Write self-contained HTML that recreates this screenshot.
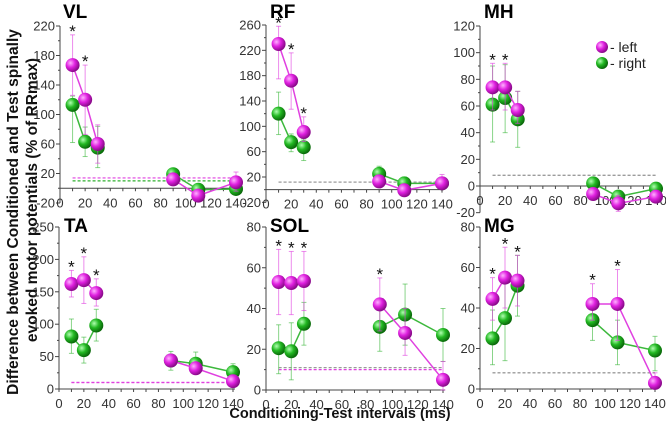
<!DOCTYPE html>
<html><head><meta charset="utf-8"><style>
html,body{margin:0;padding:0;background:#fff;}
svg{display:block;font-family:"Liberation Sans",Arial,sans-serif;}
</style></head><body>
<svg id="chart" width="666" height="428" viewBox="0 0 666 428" xmlns="http://www.w3.org/2000/svg">
<defs>
<radialGradient id="gl" cx="35%" cy="35%" r="65%"><stop offset="0" stop-color="#ffb0ff"/><stop offset="0.5" stop-color="#e020e0"/><stop offset="1" stop-color="#8a0a8a"/></radialGradient>
<radialGradient id="gr" cx="35%" cy="35%" r="65%"><stop offset="0" stop-color="#b0ffb0"/><stop offset="0.5" stop-color="#22b822"/><stop offset="1" stop-color="#0a6a0a"/></radialGradient>
</defs>
<text x="0" y="0" transform="translate(18,212) rotate(-90)" text-anchor="middle" font-size="15.5" font-weight="bold" fill="#111">Difference between Conditioned and Test spinally</text>
<text x="0" y="0" transform="translate(37,200) rotate(-90)" text-anchor="middle" font-size="15.5" font-weight="bold" fill="#111">evoked motor potentials (% of RRmax)</text>
<text x="340" y="418" text-anchor="middle" font-size="14.5" font-weight="bold" fill="#111">Conditioning-Test intervals (ms)</text>
<g>
<circle cx="602" cy="47" r="6" fill="url(#gl)"/>
<text x="610" y="52" font-size="14" fill="#222">- left</text>
<circle cx="602" cy="63" r="6" fill="url(#gr)"/>
<text x="610" y="68" font-size="14" fill="#222">- right</text>
</g>
</svg>
<script>
const intervals = [10, 20, 30, 90, 110, 140];
const vlLeft = [167, 120, 60, 12, -10, 8];
const vlLeftLo = [126, 73, 34, 5, -16, -4];
const vlLeftHi = [208, 167, 86, 20, -4, 22];
const vlRight = [113, 63, 55, 19, -2, -1];
const vlRightLo = [62, 43, 28, 12, -8, -6];
const vlRightHi = [125, 83, 84, 26, 4, 4];
const rfLeft = [230, 172, 91, 13, -1, 10];
const rfLeftLo = [175, 127, 76, 5, -6, 2];
const rfLeftHi = [258, 216, 115, 22, 5, 24];
const rfRight = [120, 75, 67, 25, 10, 10];
const rfRightLo = [87, 60, 46, 14, 4, 4];
const rfRightHi = [154, 88, 80, 37, 20, 18];
const mhLeft = [74, 74, 57, -6, -13, -8];
const mhLeftLo = [57, 57, 47, -10, -19, -12];
const mhLeftHi = [92, 92, 71, -2, -7, -4];
const mhRight = [61, 66, 50, 2, -8, -2];
const mhRightLo = [33, 40, 29, -4, -12, -6];
const mhRightHi = [90, 91, 71, 6, -4, 2];
const taLeft = [162, 168, 148, 44, 32, 12];
const taLeftLo = [142, 132, 128, 36, 24, 6];
const taLeftHi = [183, 204, 170, 52, 40, 18];
const taRight = [81, 60, 98, 44, 39, 26];
const taRightLo = [55, 40, 74, 29, 23, 12];
const taRightHi = [108, 80, 123, 58, 57, 39];
const solLeft = [53, 52.5, 53.5, 42, 28, 5];
const solLeftLo = [37, 37, 39, 29, 17, 0];
const solLeftHi = [69, 68, 68, 55, 40, 14];
const solRight = [20.5, 19, 32.5, 31, 37, 27];
const solRightLo = [8, 5, 22, 19, 22, 14];
const solRightHi = [32, 33, 43, 43, 52, 40];
const mgLeft = [44.5, 55, 53.5, 42, 42, 3];
const mgLeftLo = [34, 40, 41, 34, 24, 0];
const mgLeftHi = [55, 70, 66, 52, 59, 8];
const mgRight = [25, 35, 51, 34, 23, 19];
const mgRightLo = [12, 14, 36, 24, 12, 9];
const mgRightHi = [39, 55, 66, 44, 34, 26];
const vlStars = [10, 20];
const rfStars = [10, 20, 30];
const mhStars = [10, 20];
const taStars = [10, 20, 30];
const solStars = [10, 20, 30, 90];
const mgStars = [10, 20, 30, 90, 110];
const vlBaseline = [14, 10];
const rfBaseline = [12, 12];
const mhBaseline = [8, 8];
const taBaseline = [10, 10];
const solBaseline = [10, 11];
const mgBaseline = [8, 8];
const xTicks = [0, 20, 40, 60, 80, 100, 120, 140];

const panels = [
 {id:'vl',title:'VL',tx:63,ty:2,x0:60,x1:236,yTop:26,yBot:173.5,vTop:220,vBot:20,min:-20,max:220,step:40,L:[vlLeft,vlLeftLo,vlLeftHi],R:[vlRight,vlRightLo,vlRightHi],stars:vlStars,base:vlBaseline,baseColors:['#e040e0','#30b030']},
 {id:'rf',title:'RF',tx:270,ty:2,x0:266,x1:442,yTop:25,yBot:177,vTop:260,vBot:20,min:-20,max:260,step:40,L:[rfLeft,rfLeftLo,rfLeftHi],R:[rfRight,rfRightLo,rfRightHi],stars:rfStars,base:rfBaseline,baseColors:['#999','#999']},
 {id:'mh',title:'MH',tx:484,ty:2,x0:480,x1:656,yTop:26,yBot:186,vTop:120,vBot:0,min:-20,max:120,step:20,L:[mhLeft,mhLeftLo,mhLeftHi],R:[mhRight,mhRightLo,mhRightHi],stars:mhStars,base:mhBaseline,baseColors:['#999','#999']},
 {id:'ta',title:'TA',tx:64,ty:216,x0:59,x1:233,yTop:227,yBot:389,vTop:250,vBot:0,min:0,max:250,step:50,L:[taLeft,taLeftLo,taLeftHi],R:[taRight,taRightLo,taRightHi],stars:taStars,base:taBaseline,baseColors:['#e040e0','#e040e0']},
 {id:'sol',title:'SOL',tx:270,ty:216,x0:266,x1:443,yTop:227,yBot:390,vTop:80,vBot:0,min:0,max:80,step:20,L:[solLeft,solLeftLo,solLeftHi],R:[solRight,solRightLo,solRightHi],stars:solStars,base:solBaseline,baseColors:['#e040e0','#999']},
 {id:'mg',title:'MG',tx:484,ty:216,x0:480,x1:655,yTop:227,yBot:389,vTop:80,vBot:0,min:0,max:80,step:20,L:[mgLeft,mgLeftLo,mgLeftHi],R:[mgRight,mgRightLo,mgRightHi],stars:mgStars,base:mgBaseline,baseColors:['#999','#999']}
];
const NS='http://www.w3.org/2000/svg';
const svg=document.getElementById('chart');
function mk(tag,attrs,parent){const e=document.createElementNS(NS,tag);for(const k in attrs)e.setAttribute(k,attrs[k]);parent.appendChild(e);return e;}
panels.forEach(p=>{
 const g=mk('g',{},svg);
 
 
 const xs=v=>p.x0+(v/140)*(p.x1-p.x0);
 const ys=v=>p.yTop+(p.vTop-v)*(p.yBot-p.yTop)/(p.vTop-p.vBot);
 const y0=ys(0);
 const ya=mk('line',{x1:p.x0,x2:p.x0,y1:ys(p.max),y2:ys(p.min),stroke:'#444','stroke-width':1},g);
 
 
 for(let v=p.min;v<=p.max+0.001;v+=p.step/2){
  const major=Math.abs(((v-p.min)/p.step)-Math.round((v-p.min)/p.step))<0.01;
  mk('line',{x1:p.x0-(major?4:2),x2:p.x0,y1:ys(v),y2:ys(v),stroke:'#444','stroke-width':1},g);
  if(major){
   const t=mk('text',{x:p.x0-5,y:ys(v)+4.5,'text-anchor':'end','font-size':13,fill:'#333'},g);
   t.textContent=v;
   
   
  }
 }
 const xa=mk('line',{x1:p.x0,x2:p.x1+2,y1:y0,y2:y0,stroke:'#444','stroke-width':1},g);
 
 
 for(let v=0;v<=140;v+=10){mk('line',{x1:xs(v),x2:xs(v),y1:y0,y2:y0+3,stroke:'#444','stroke-width':1},g);}
 xTicks.forEach(v=>{
  const t=mk('text',{x:xs(v),y:y0+19,'text-anchor':'middle','font-size':13,fill:'#333'},g);
  t.textContent=v;
  
  
 });
 p.base.forEach((b,i)=>{
  const l=mk('line',{x1:xs(10),x2:xs(140),y1:ys(b),y2:ys(b),stroke:p.baseColors[i],'stroke-width':1.2,'stroke-dasharray':'3,2'},g);
  
  
 });
 const tt=mk('text',{x:p.tx,y:p.ty+16,'font-size':19,'font-weight':'bold',fill:'#000'},g);
 tt.textContent=p.title;
 
 
 [[p.R,'#3cb83c','url(#gr)','right'],[p.L,'#e040e0','url(#gl)','left']].forEach(([s,col,fill,nm])=>{
  const [val,lo,hi]=s;
  intervals.forEach((x,i)=>{
   const eb=mk('g',{stroke:col,'stroke-opacity':0.6,'stroke-width':1},g);
   
   
   mk('line',{x1:xs(x),x2:xs(x),y1:ys(lo[i]),y2:ys(hi[i])},eb);
   mk('line',{x1:xs(x)-2.5,x2:xs(x)+2.5,y1:ys(lo[i]),y2:ys(lo[i])},eb);
   mk('line',{x1:xs(x)-2.5,x2:xs(x)+2.5,y1:ys(hi[i]),y2:ys(hi[i])},eb);
  });
  const seg=(a,b)=>intervals.slice(a,b).map((x,j)=>xs(x)+','+ys(val[a+j])).join(' ');
  [[0,3],[3,6]].forEach(([a,b])=>{
   const pl=mk('polyline',{points:seg(a,b),fill:'none',stroke:col,'stroke-width':1.5},g);
   
   
  });
  intervals.forEach((x,i)=>{
   const c=mk('circle',{cx:xs(x),cy:ys(val[i]),r:7,fill:fill},g);
   
   
  });
 });
 p.stars.forEach(x=>{
  const i=intervals.indexOf(x);
  const top=Math.max(p.L[2][i],p.R[2][i]);
  const t=mk('text',{x:xs(x),y:ys(top)+2,'text-anchor':'middle','font-size':17,fill:'#111'},g);
  t.textContent='*';
  
  
 });
});
</script>
</body></html>
